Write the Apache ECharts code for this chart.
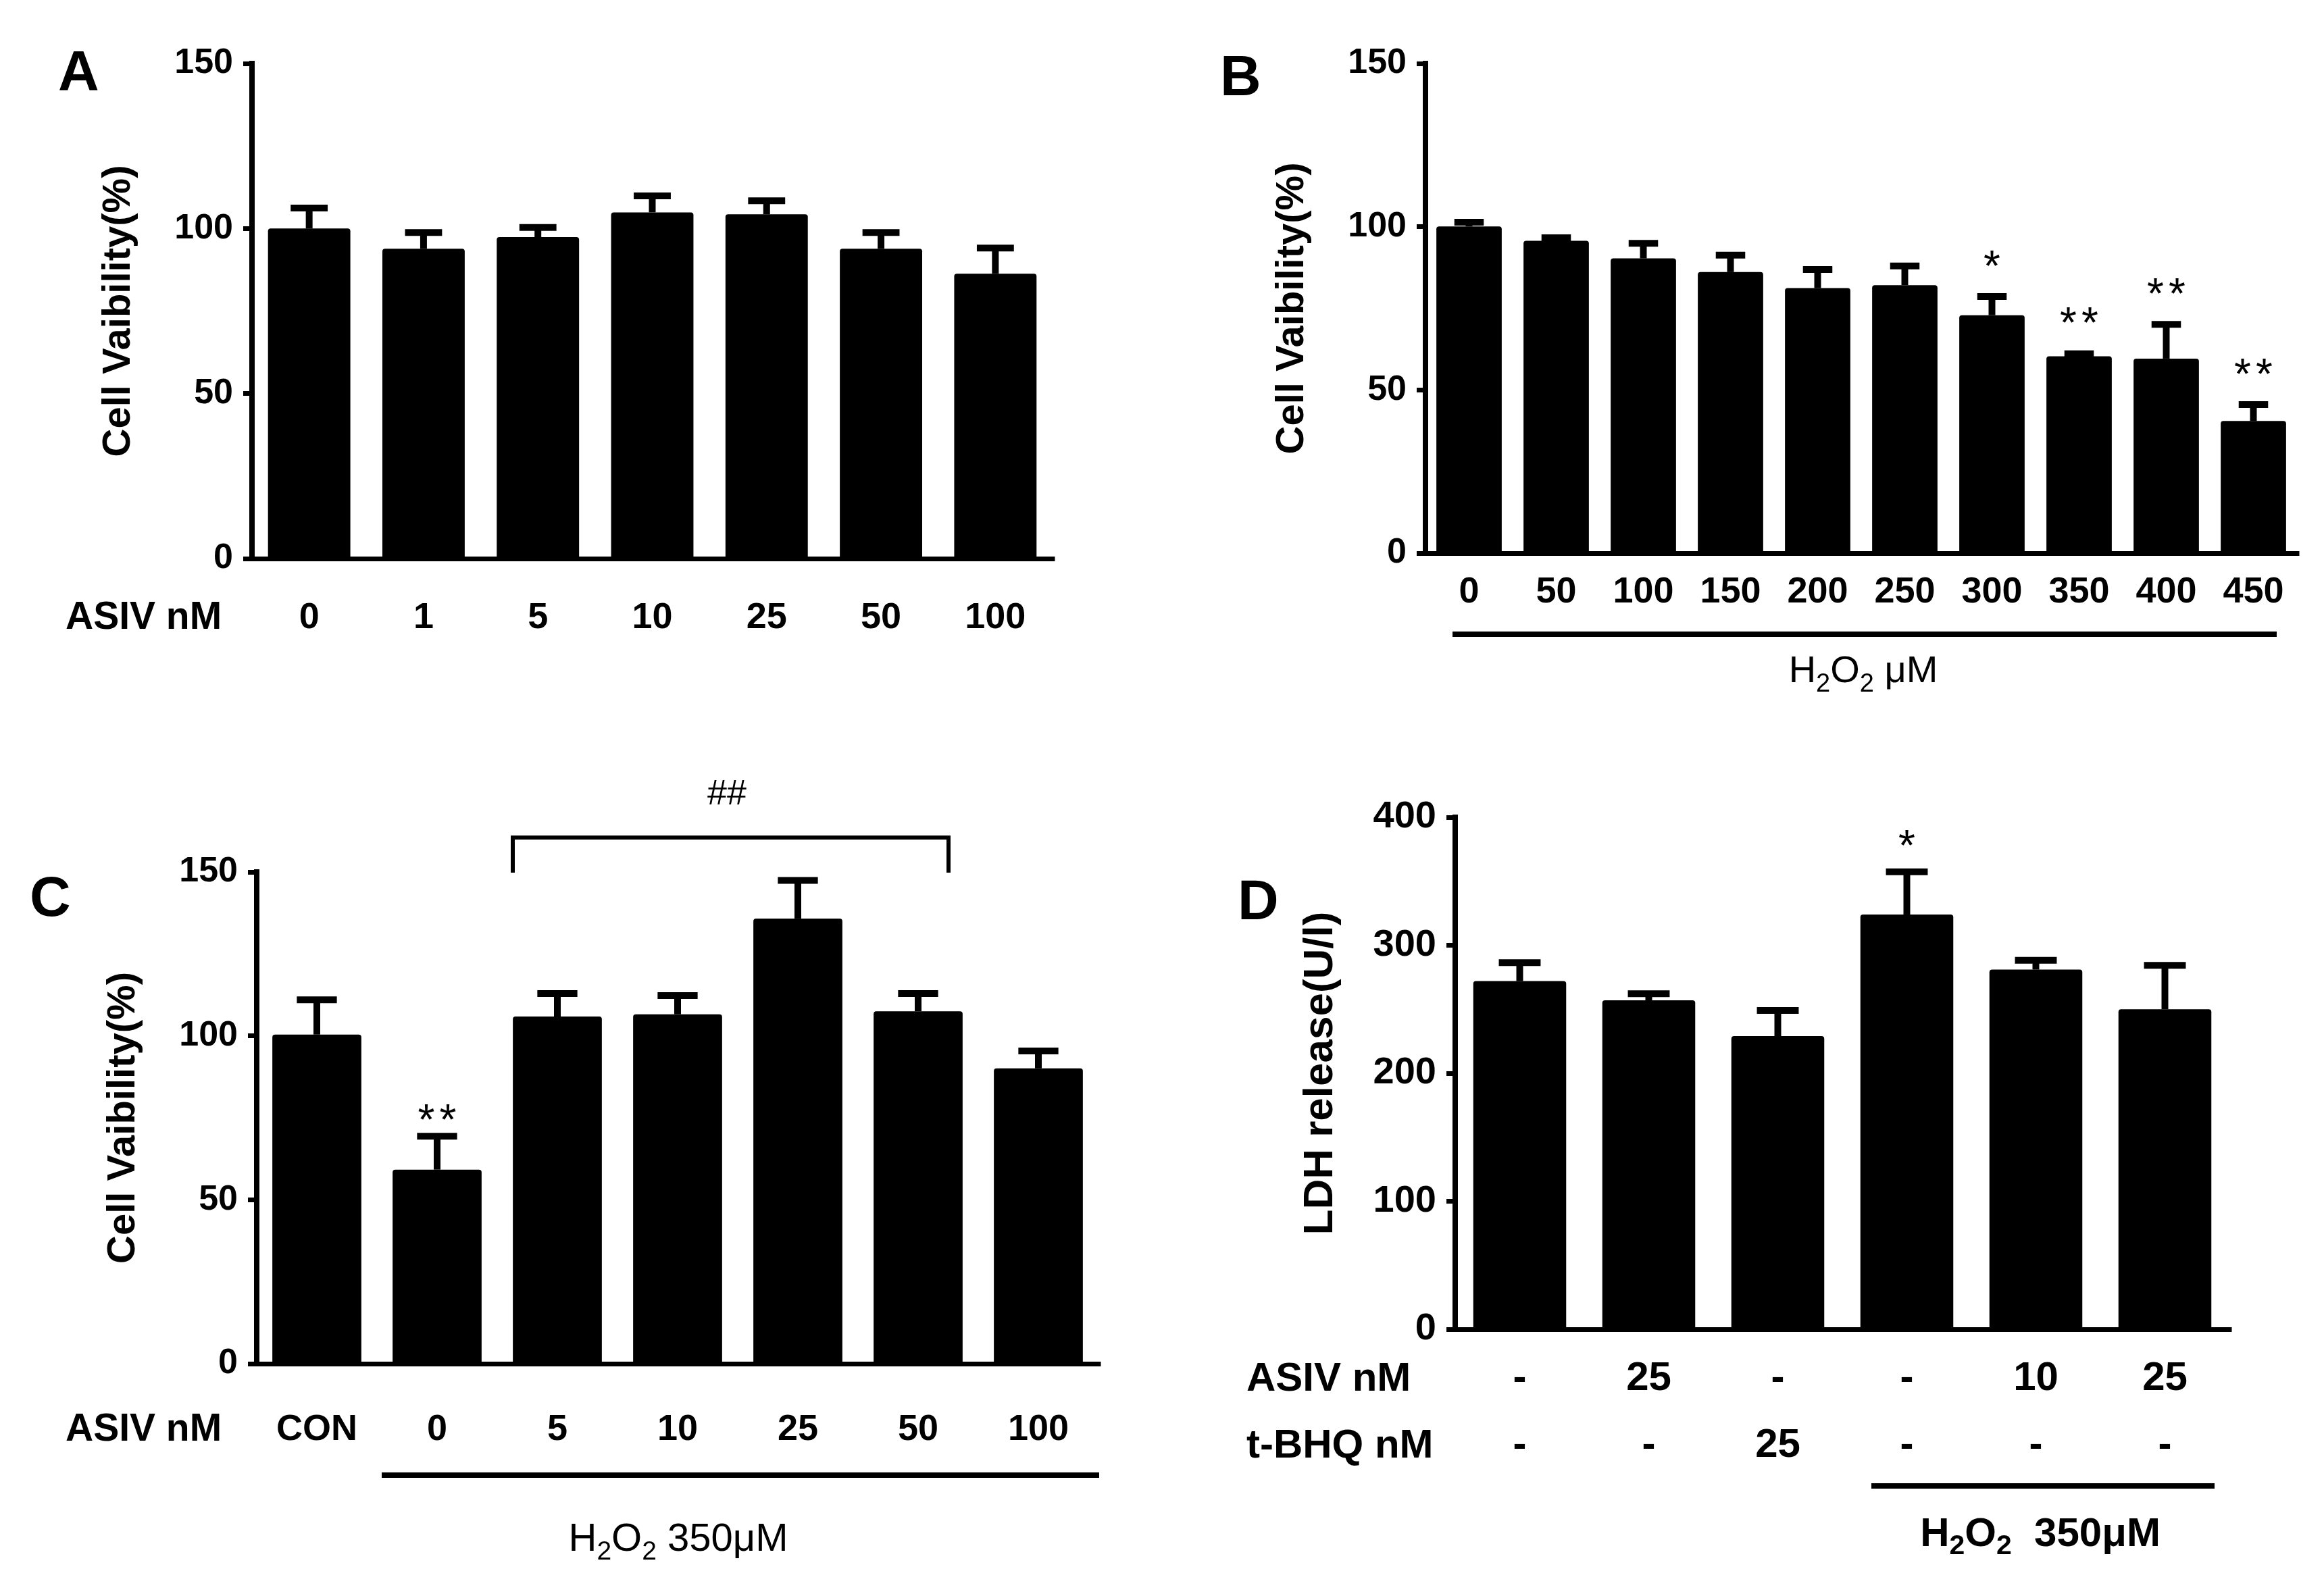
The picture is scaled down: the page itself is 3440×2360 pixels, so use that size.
<!DOCTYPE html>
<html>
<head>
<meta charset="utf-8">
<script src="https://cdn.jsdelivr.net/npm/echarts@6/dist/echarts.min.js"></script>
<style>
html, body { margin: 0; padding: 0; background: #fff; }
#chart { width: 3440px; height: 2360px; }
</style>
</head>
<body>
<div id="chart"></div>
<script>
const FONT = '"Liberation Sans", Arial, Helvetica, sans-serif';

// A: ASIV alone
const catsA = ['0', '1', '5', '10', '25', '50', '100'];
const meanA = [100, 93.9, 97.4, 104.9, 104.3, 93.9, 86.3];
const sdA = [6.2, 4.9, 2.9, 5.0, 4.1, 4.9, 7.8];

// B: H2O2 dose
const catsB = ['0', '50', '100', '150', '200', '250', '300', '350', '400', '450'];
const meanB = [100.1, 95.7, 90.3, 86.1, 81.2, 82.1, 72.9, 60.3, 59.6, 40.5];
const sdB = [1.3, 0.9, 4.6, 5.2, 5.7, 5.9, 5.7, 0.8, 10.5, 5.0];
const starsB = ['', '', '', '', '', '', '*', '**', '**', '**'];

// C: ASIV + H2O2 350uM
const catsC = ['CON', '0', '5', '10', '25', '50', '100'];
const meanC = [100.4, 59.2, 105.9, 106.6, 135.8, 107.5, 90.1];
const sdC = [10.6, 10.2, 7.0, 5.7, 11.6, 5.4, 5.3];
const starsC = ['', '**', '', '', '', '', ''];

// D: LDH release
const catsD = ['g1', 'g2', 'g3', 'g4', 'g5', 'g6'];
const asivD = ['-', '25', '-', '-', '10', '25'];
const tbhqD = ['-', '-', '25', '-', '-', '-'];
const meanD = [272, 257, 229, 324, 281, 250];
const sdD = [14.4, 5.1, 20.1, 33.4, 7.3, 34.3];
const starsD = ['', '', '', '*', '', ''];

const ticksViab = [0, 50, 100, 150];
const ticksLDH = [0, 100, 200, 300, 400];

const chart = echarts.init(document.getElementById('chart'), null, { renderer: 'canvas' });

function xAxisOf(i, cats, fontSize, margin, extraLabel) {
    return {
        type: 'category', gridIndex: i, data: cats,
        axisLine: { lineStyle: { color: '#000', width: 7, cap: 'square' } },
        axisTick: { alignWithLabel: true, length: 16, lineStyle: { color: '#000', width: 7 } },
        axisLabel: Object.assign({
            color: '#000', fontFamily: FONT, fontWeight: 'bold',
            fontSize: fontSize, margin: margin, interval: 0
        }, extraLabel || {}),
        splitLine: { show: false }
    };
}

function yAxisOf(i, ticks, name, fontSize, nameSize) {
    return {
        type: 'value', gridIndex: i,
        min: ticks[0], max: ticks[ticks.length - 1], interval: ticks[1] - ticks[0],
        name: name, nameLocation: 'middle', nameGap: 168, nameRotate: 90,
        nameTextStyle: { color: '#000', fontFamily: FONT, fontWeight: 'bold', fontSize: nameSize },
        axisLine: { show: true, lineStyle: { color: '#000', width: 8, cap: 'square' } },
        axisTick: { show: true, length: 13, lineStyle: { color: '#000', width: 7 } },
        axisLabel: { color: '#000', fontFamily: FONT, fontWeight: 'bold', fontSize: fontSize, margin: 28 },
        splitLine: { show: false }
    };
}

function barSeries(i, mean, gap) {
    return {
        type: 'bar', xAxisIndex: i, yAxisIndex: i, data: mean,
        barCategoryGap: gap, silent: true,
        itemStyle: { color: '#000', borderRadius: [4, 4, 0, 0] }
    };
}

// error bar (upper half only) plus the significance marks above it
function errSeries(i, mean, sd, stars, ratio, starOffset) {
    return {
        type: 'custom', xAxisIndex: i, yAxisIndex: i, z: 3, silent: true,
        data: mean.map((m, k) => [k, m, sd[k]]),
        renderItem: function (params, api) {
            const k = api.value(0), m = api.value(1), s = api.value(2);
            const base = api.coord([k, m]);
            const tip = api.coord([k, m + s]);
            const capW = api.size([1, 0])[0] * ratio * 0.45;
            const children = [
                { type: 'rect', shape: { x: base[0] - 5, y: tip[1], width: 10, height: base[1] - tip[1] }, style: { fill: '#000' } },
                { type: 'rect', shape: { x: tip[0] - capW / 2, y: tip[1] - 5, width: capW, height: 10 }, style: { fill: '#000' } }
            ];
            const st = stars ? stars[params.dataIndex] : '';
            for (let j = 0; j < st.length; j++) {
                children.push({
                    type: 'text',
                    x: tip[0] + (j - (st.length - 1) / 2) * 32,
                    y: tip[1] - 5 - starOffset + 18,
                    style: {
                        text: '*', fill: '#000', font: '64px ' + FONT,
                        align: 'center', verticalAlign: 'middle',
                        textAlign: 'center', textVerticalAlign: 'middle'
                    }
                });
            }
            return { type: 'group', children: children };
        }
    };
}

function txt(text, x, y, size, bold, align) {
    return {
        type: 'text', x: x, y: y, silent: true,
        style: {
            text: text, fill: '#000', font: (bold ? 'bold ' : '') + size + 'px ' + FONT,
            align: align || 'left', verticalAlign: 'middle',
            textAlign: align || 'left', textVerticalAlign: 'middle'
        }
    };
}

function h2o2(rest, x, y, size, bold) {
    const w = bold ? 'bold' : 'normal';
    return {
        type: 'text', x: x, y: y, silent: true,
        style: {
            text: '{n|H}{s|2}{n|O}{s|2}{n|' + rest + '}',
            fill: '#000',
            align: 'center', verticalAlign: 'middle',
            textAlign: 'center', textVerticalAlign: 'middle',
            rich: {
                n: { fontSize: size, fontFamily: FONT, fontWeight: w, lineHeight: 76, fill: '#000', color: '#000' },
                s: { fontSize: Math.round(size * 0.68), fontFamily: FONT, fontWeight: w, lineHeight: 44, verticalAlign: 'bottom', fill: '#000', color: '#000' }
            }
        }
    };
}

function bar(x, y, w, h) {
    return { type: 'rect', silent: true, shape: { x: x, y: y, width: w, height: h }, style: { fill: '#000' } };
}

const option = {
    animation: false,
    backgroundColor: '#fff',
    grid: [
        { left: 373, top: 94, width: 1185, height: 733 },
        { left: 2110, top: 94, width: 1290, height: 725 },
        { left: 380, top: 1291, width: 1246, height: 728 },
        { left: 2154, top: 1210, width: 1146, height: 758 }
    ],
    xAxis: [
        xAxisOf(0, catsA, 54, 61),
        xAxisOf(1, catsB, 54, 31),
        xAxisOf(2, catsC, 54, 71),
        xAxisOf(3, catsD, 60, 24, {
            lineHeight: 99,
            formatter: (v, idx) => asivD[idx] + '\n' + tbhqD[idx]
        })
    ],
    yAxis: [
        yAxisOf(0, ticksViab, 'Cell Vaibility(%)', 52, 58),
        yAxisOf(1, ticksViab, 'Cell Vaibility(%)', 52, 58),
        yAxisOf(2, ticksViab, 'Cell Vaibility(%)', 52, 58),
        yAxisOf(3, ticksLDH, 'LDH release(U/l)', 56, 62)
    ],
    series: [
        barSeries(0, meanA, '28%'),
        errSeries(0, meanA, sdA, null, 0.72, 0),
        barSeries(1, meanB, '25%'),
        errSeries(1, meanB, sdB, starsB, 0.75, 54),
        barSeries(2, meanC, '26%'),
        errSeries(2, meanC, sdC, starsC, 0.74, 33),
        barSeries(3, meanD, '28%'),
        errSeries(3, meanD, sdD, starsD, 0.72, 47)
    ],
    graphic: [
        txt('A', 86, 111, 84, true),
        txt('B', 1806, 118, 84, true),
        txt('C', 44, 1333, 84, true),
        txt('D', 1832, 1338, 84, true),

        txt('ASIV nM', 97, 915, 57, true),
        txt('ASIV nM', 97, 2117, 57, true),
        txt('ASIV nM', 1845, 2042, 60, true),
        txt('t-BHQ nM', 1845, 2141, 60, true),

        bar(2150, 935, 1220, 8),
        h2o2(' μM', 2758, 995, 56, false),

        bar(565, 2180, 1062, 8),
        h2o2(' 350μM', 1004, 2280, 58, false),

        bar(2770, 2196, 508, 8),
        h2o2('  350μM', 3020, 2272, 60, true),

        {
            type: 'polyline', silent: true,
            shape: { points: [[759, 1292], [759, 1240], [1404, 1240], [1404, 1292]] },
            style: { stroke: '#000', lineWidth: 6, fill: null }
        },
        txt('##', 1076, 1177, 52, false, 'center')
    ]
};

chart.setOption(option);
</script>
</body>
</html>
